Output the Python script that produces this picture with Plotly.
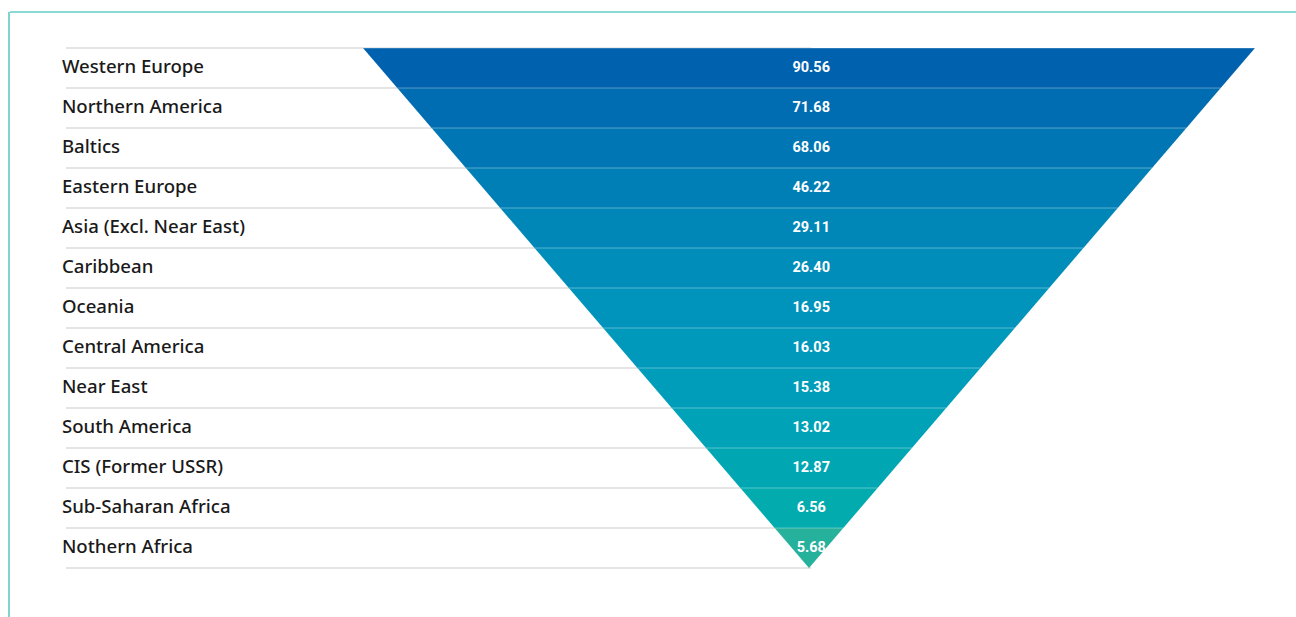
import plotly.graph_objects as go

# Regions ranked top to bottom, with the value shown in each band
regions = [
    "Western Europe", "Northern America", "Baltics", "Eastern Europe",
    "Asia (Excl. Near East)", "Caribbean", "Oceania", "Central America",
    "Near East", "South America", "CIS (Former USSR)", "Sub-Saharan Africa",
    "Nothern Africa",
]
values = [90.56, 71.68, 68.06, 46.22, 29.11, 26.40, 16.95, 16.03,
          15.38, 13.02, 12.87, 6.56, 5.68]
band_colors = [
    "#0061ae", "#006cb1", "#0077b4", "#007fb6", "#0087b8", "#008dba",
    "#0093bb", "#0098bb", "#009dba", "#00a2b7", "#00a7b3", "#02abae",
    "#26b19d",
]

W, H = 1296, 617
n = len(regions)

fig = go.Figure()

# Gray row rules on the left, running under the triangle
for k in range(n + 1):
    fig.add_trace(go.Scatter(
        x=[-1.666, 0.005], y=[k, k], mode="lines",
        line=dict(color="#dcdcdc", width=1.5),
        hoverinfo="skip", showlegend=False,
    ))

# Inverted triangle split into one band per region
for i, (name, val, col) in enumerate(zip(regions, values, band_colors)):
    top = 1 - i / n
    bot = 1 - (i + 1) / n
    fig.add_trace(go.Scatter(
        x=[-top, top, bot, -bot, -top],
        y=[i, i, i + 1, i + 1, i],
        mode="lines", fill="toself", fillcolor=col,
        line=dict(width=0), hoverinfo="skip", showlegend=False,
    ))
    # Thin light separator across the band's top edge
    fig.add_trace(go.Scatter(
        x=[-top, top], y=[i, i], mode="lines",
        line=dict(color="rgba(255,255,255,0.35)", width=1),
        hoverinfo="skip", showlegend=False,
    ))

# Values centred in each band
fig.add_trace(go.Scatter(
    x=[0.005] * n, y=[i + 0.5 for i in range(n)], mode="text",
    text=[f"{v:.2f}" for v in values],
    textfont=dict(family="Roboto", size=14.5, color="white", weight="bold"),
    textposition="middle center", hoverinfo="skip", showlegend=False,
))

# Region names on the left
fig.add_trace(go.Scatter(
    x=[-1.675] * n, y=[i + 0.52 for i in range(n)], mode="text",
    text=regions,
    textfont=dict(family="Noto Sans, Open Sans", size=18.6, color="#1a1a1a",
                  weight=500),
    textposition="middle right", hoverinfo="skip", showlegend=False,
))

# Card outline
fig.add_shape(type="line", xref="paper", yref="paper",
              x0=10 / W, x1=1.0, y0=1 - 12 / H, y1=1 - 12 / H,
              line=dict(color="#17b3ac", width=1.2))
fig.add_shape(type="line", xref="paper", yref="paper",
              x0=9 / W, x1=9 / W, y0=0, y1=1 - 12 / H,
              line=dict(color="#7fd4cf", width=2))

cx, half = 809.0, 446.0
top_px, row_px = 48.0, 40.0
fig.update_layout(
    width=W, height=H,
    margin=dict(l=0, r=0, t=0, b=0),
    paper_bgcolor="white", plot_bgcolor="white",
    xaxis=dict(range=[-cx / half, (W - cx) / half], visible=False, fixedrange=True),
    yaxis=dict(range=[(H - top_px) / row_px, -top_px / row_px],
               visible=False, fixedrange=True),
    showlegend=False,
)

fig.write_html("out.html")
